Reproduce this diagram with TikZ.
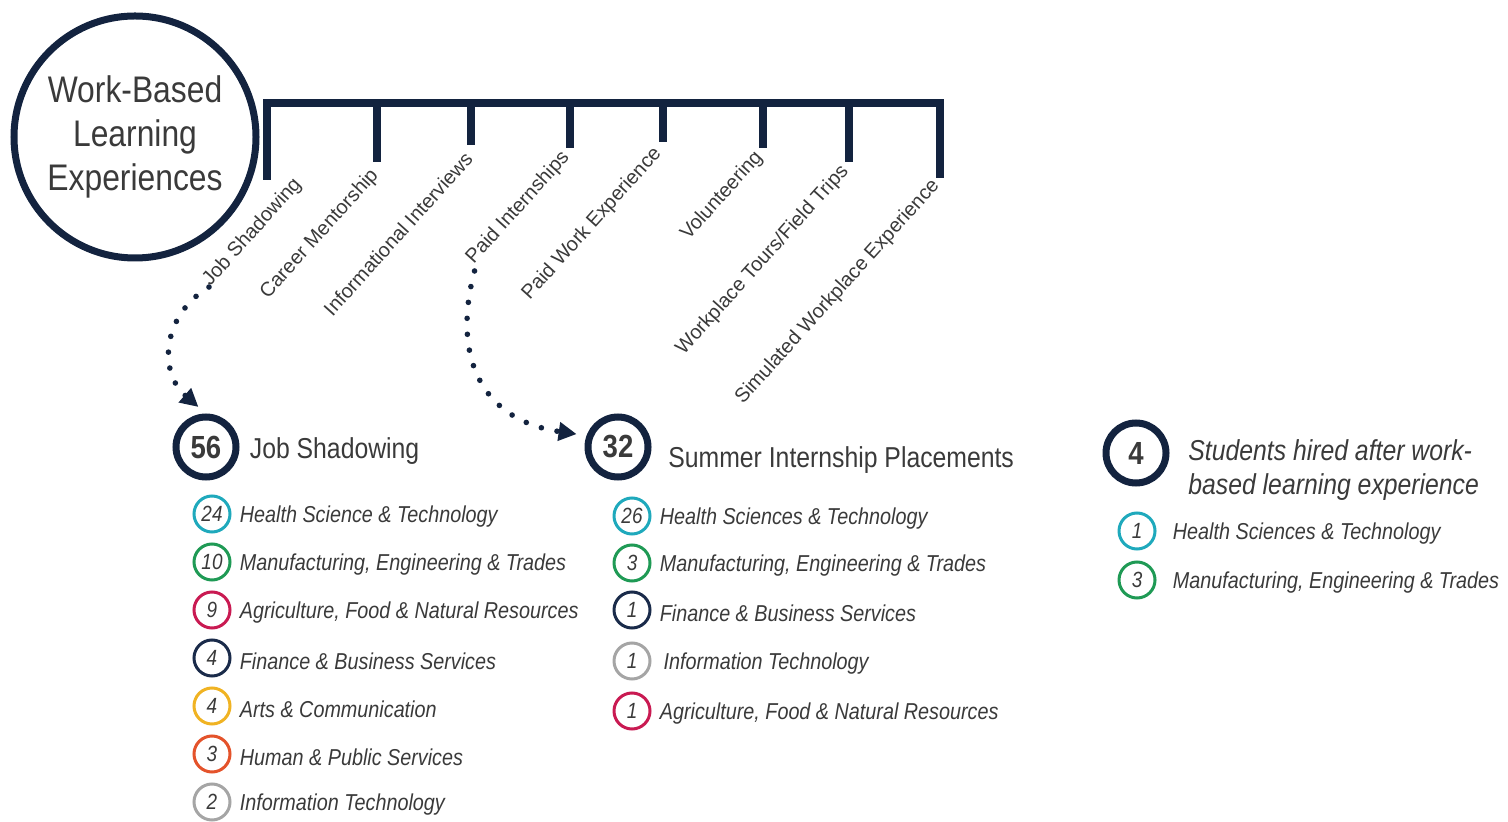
\documentclass[tikz,border=0pt]{standalone}
\usepackage{fontspec}
\setmainfont{Liberation Sans}[FakeStretch=0.86]
\newfontfamily\lblfont{Liberation Sans}
\usetikzlibrary{arrows.meta,positioning}
\definecolor{navy}{HTML}{13233F}
\definecolor{txt}{HTML}{3A3A3A}
\definecolor{hst}{HTML}{1FA9BC}
\definecolor{met}{HTML}{1F9A55}
\definecolor{afn}{HTML}{C91A52}
\definecolor{fbs}{HTML}{1A2B4A}
\definecolor{artc}{HTML}{F0B323}
\definecolor{hps}{HTML}{E4532B}
\definecolor{itc}{HTML}{A5A5A5}

\begin{document}
\begin{tikzpicture}[x=0.5pt,y=0.5pt,
  big/.style={circle,draw=navy,line width=3.5pt,minimum size=30pt,inner sep=0pt,text=txt,font=\bfseries\fontsize{16}{16}\selectfont},
  sub/.style={circle,draw=#1,line width=1.5pt,minimum size=18pt,inner sep=0pt,text=txt,font=\itshape\fontsize{11}{11}\selectfont},
  item/.style={anchor=west,text=txt,font=\itshape\fontsize{11.5}{12}\selectfont,inner sep=0pt,yshift=-1.5pt},
  head/.style={anchor=west,text=txt,font=\fontsize{14.4}{17}\selectfont,inner sep=0pt},
  lbl/.style={rotate=48,anchor=north east,text=txt,font=\lblfont\fontsize{10}{11}\selectfont,inner sep=1pt},
  dots/.style={navy,line width=2.8pt,line cap=round,dash pattern=on 0pt off 8pt,shorten >=5pt,-{Triangle[length=9pt,width=9pt]}}]
\useasboundingbox (0,0) rectangle (1508,-822);

% title circle and bracket
\node[circle,draw=navy,line width=3.5pt,minimum size=121pt,align=center,text=txt,
  font=\fontsize{18.5}{22}\selectfont] (wbl) at (135,-137) {Work-Based\\Learning\\Experiences};
\draw[navy,line width=4pt] (267,-180) |- (940,-103) -- (940,-178);
\foreach \x/\y in {377/162,471/145,570/148,663/142,763/148,849/162}
  \draw[navy,line width=4pt] (\x,-103) -- (\x,-\y);

\foreach \n/\x/\y/\t in {1/291/172/{Job Shadowing},2/368/163/{Career Mentorship},
    3/463/147/{Informational Interviews},4/559/145/{Paid Internships},
    5/651/141/{Paid Work Experience},6/752/145/{Volunteering},
    7/838/159/{Workplace Tours/Field Trips},8/929/173/{Simulated Workplace Experience}}
  \node[lbl] (lab\n) at (\x,-\y) {\t};

% totals
\node[big] (c56) at (206,-447) {56};
\node[head,right=5pt of c56,yshift=-2pt] (js) {Job Shadowing};
\node[big] (c32) at (618,-447) {32};
\node[head] (sip) at (668,-460) {Summer Internship Placements};
\node[big] (c4) at (1136,-453) {4};
\node[head,font=\itshape\fontsize{14.4}{17}\selectfont,align=left] (hired) at (1188,-470)
  {Students hired after work-\\based learning experience};

\draw[dots] ([shift={(4,-2)}]lab1.west) .. controls (162,-315) and (158,-372) .. (c56.north);
\draw[dots] ([shift={(6,-8)}]lab4.west) .. controls (452,-355) and (480,-420) .. (c32.160);

% breakdowns
\foreach \n/\y/\c/\v/\t in {1/514/hst/24/{Health Science \& Technology},
    2/562/met/10/{Manufacturing, Engineering \& Trades},
    3/610/afn/9/{Agriculture, Food \& Natural Resources},
    4/658/fbs/4/{Finance \& Business Services},5/706/artc/4/{Arts \& Communication},
    6/754/hps/3/{Human \& Public Services},7/802/itc/2/{Information Technology}}{
  \node[sub=\c] (js\n) at (212,-\y) {\v};
  \node[item,right=4pt of js\n] (jst\n) {\t};}

\foreach \n/\y/\c/\v/\t in {1/516/hst/26/{Health Sciences \& Technology},
    2/563/met/3/{Manufacturing, Engineering \& Trades},
    3/610/fbs/1/{Finance \& Business Services},4/661/itc/1/{\,Information Technology},
    5/711/afn/1/{Agriculture, Food \& Natural Resources}}{
  \node[sub=\c] (sp\n) at (632,-\y) {\v};
  \node[item,right=4pt of sp\n] (spt\n) {\t};}

\foreach \n/\y/\c/\v/\t in {1/531/hst/1/{Health Sciences \& Technology},
    2/580/met/3/{Manufacturing, Engineering \& Trades}}{
  \node[sub=\c] (hr\n) at (1137,-\y) {\v};
  \node[item,right=8pt of hr\n] (hrt\n) {\t};}
\end{tikzpicture}
\end{document}
